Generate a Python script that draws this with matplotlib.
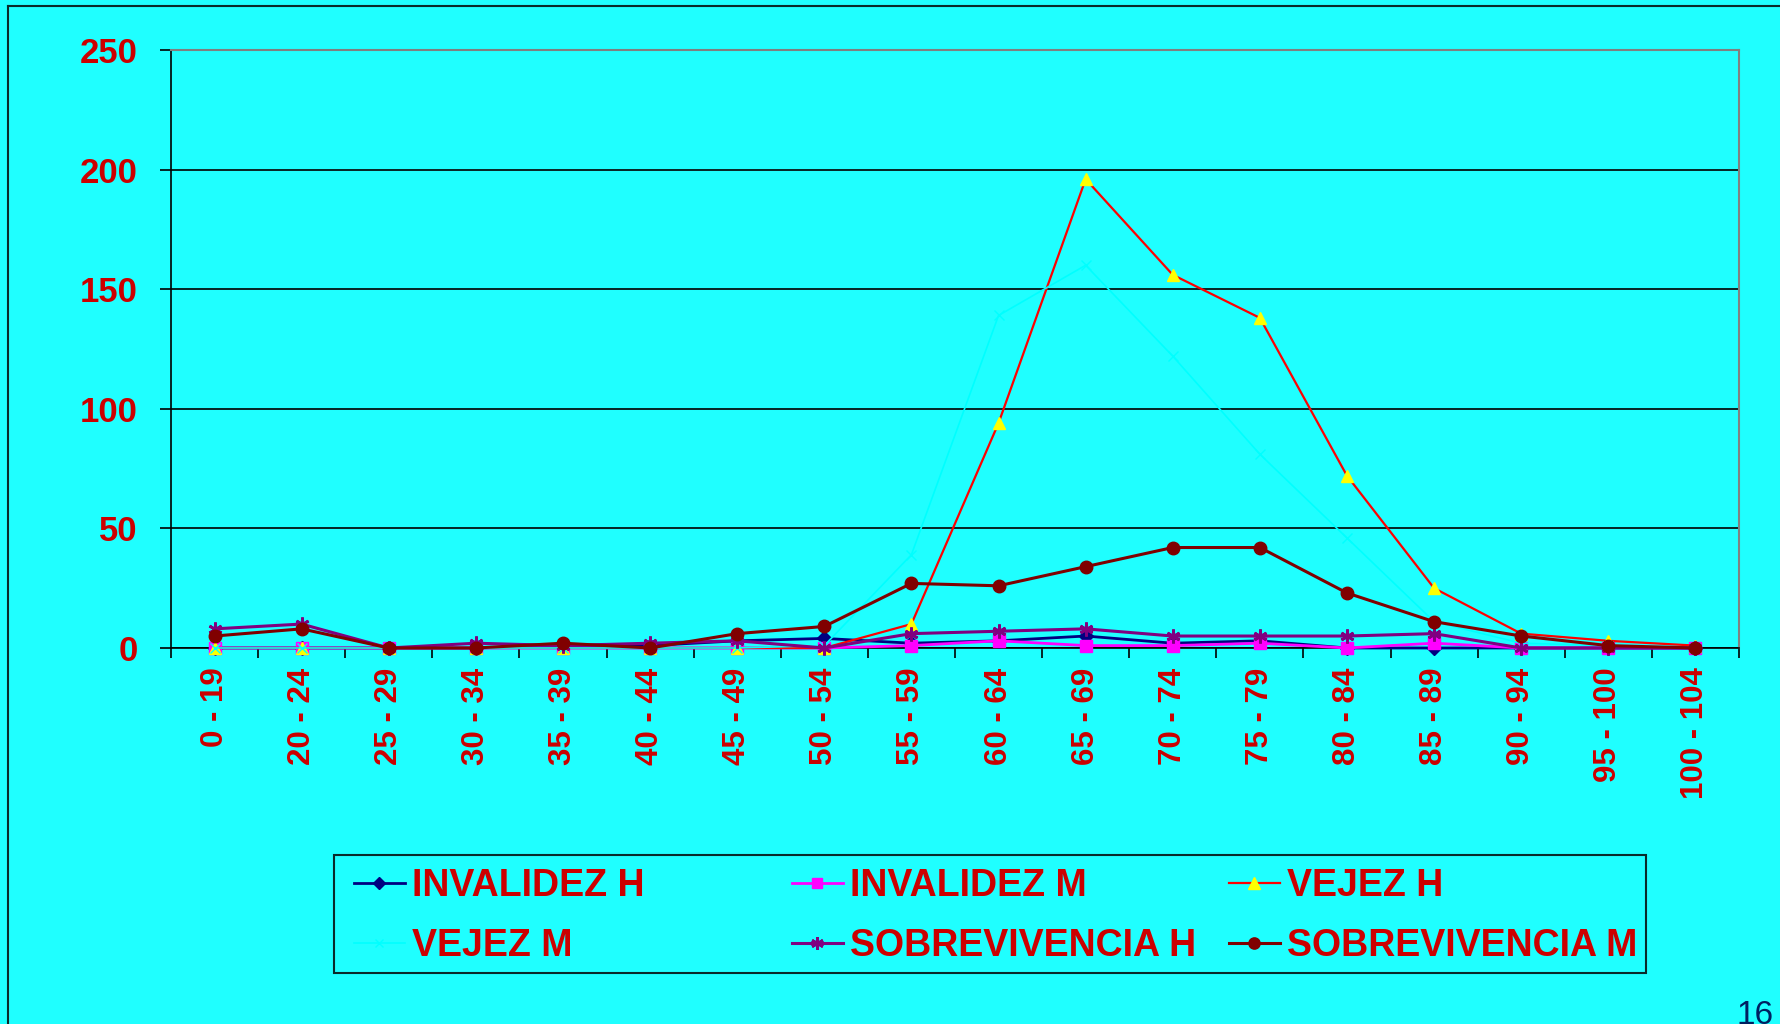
import numpy as np
import matplotlib
matplotlib.use("Agg")
import matplotlib.pyplot as plt
from matplotlib.patches import Rectangle
from matplotlib.lines import Line2D

# age groups on the x axis
ages = ["0 - 19", "20 - 24", "25 - 29", "30 - 34", "35 - 39", "40 - 44",
        "45 - 49", "50 - 54", "55 - 59", "60 - 64", "65 - 69", "70 - 74",
        "75 - 79", "80 - 84", "85 - 89", "90 - 94", "95 - 100", "100 - 104"]

invalidez_h = [0, 0, 0, 0, 1, 1, 3, 4, 2, 3, 5, 2, 3, 0, 0, 0, 0, 0]
invalidez_m = [0, 0, 0, 0, 0, 0, 0, 0, 1, 3, 1, 1, 2, 0, 2, 0, 0, 0]
vejez_h = [0, 0, 0, 0, 0, 0, 0, 0, 10, 94, 196, 156, 138, 72, 25, 6, 3, 1]
vejez_m = [0, 0, 0, 0, 0, 0, 0, 1, 39, 139, 160, 122, 81, 46, 11, 2, 1, 0]
sobrev_h = [8, 10, 0, 2, 1, 2, 3, 0, 6, 7, 8, 5, 5, 5, 6, 0, 0, 0]
sobrev_m = [5, 8, 0, 0, 2, 0, 6, 9, 27, 26, 34, 42, 42, 23, 11, 5, 1, 0]

y_ticks = [0, 50, 100, 150, 200, 250]

BG = "#1FFFFF"
RED_TXT = "#CC0000"
plt.rcParams["font.family"] = ["Liberation Sans", "DejaVu Sans"]

fig = plt.figure(figsize=(17.81, 10.24), dpi=100, facecolor=BG)
ax = fig.add_axes([0.0960, 0.3672, 0.8804, 0.5840], facecolor=BG)

x = np.arange(len(ages))
series = [
    ("INVALIDEZ H", invalidez_h, dict(color="#000080", lw=2.0, marker="D", ms=7,
                                      mfc="#000080", mec="#000080")),
    ("INVALIDEZ M", invalidez_m, dict(color="#FF00FF", lw=2.0, marker="s", ms=8,
                                      mfc="#FF00FF", mec="#FF00FF")),
    ("VEJEZ H", vejez_h, dict(color="#FF0000", lw=1.6, marker="^", ms=9,
                              mfc="#FFFF00", mec="#FFFF00")),
    ("VEJEZ M", vejez_m, dict(color="#00FFFF", lw=1.2, marker="x", ms=7,
                              mfc="#00FFFF", mec="#00FFFF")),
    ("SOBREVIVENCIA H", sobrev_h, dict(color="#800080", lw=2.2, marker=(6, 2, 0), ms=10,
                                       mfc="#800080", mec="#800080", mew=2)),
    ("SOBREVIVENCIA M", sobrev_m, dict(color="#800000", lw=2.2, marker="o", ms=9,
                                       mfc="#800000", mec="#800000")),
]

handles = []
for i, (name, vals, st) in enumerate(series):
    ln, = ax.plot(x, vals, label=name, clip_on=False, zorder=3 + i, **st)
    handles.append(ln)

ax.set_xlim(-0.5, len(ages) - 0.5)
ax.set_ylim(0, 250)

# ticks between categories, labels at category centres
ax.set_xticks(np.arange(-0.5, len(ages), 1))
ax.set_xticklabels([])
ax.set_xticks(x, ages, minor=True)
ax.tick_params(axis="x", which="major", direction="out", length=7.5, width=1.2, color="black")
ax.tick_params(axis="x", which="minor", length=0, pad=14, labelsize=22.5,
               labelcolor=RED_TXT, labelrotation=90)
for lab in ax.get_xticklabels(minor=True):
    lab.set_fontweight("bold")
    lab.set_va("top")

ax.set_yticks(y_ticks)
ax.set_yticklabels([str(v) for v in y_ticks], fontweight="bold")
ax.tick_params(axis="y", direction="out", length=8, width=1.2, pad=16,
               labelsize=25, labelcolor=RED_TXT)

ax.grid(axis="y", color="black", lw=1.2)
ax.set_axisbelow(True)
for s in ["left", "bottom"]:
    ax.spines[s].set_color("black")
    ax.spines[s].set_linewidth(1.2)
for s in ["top", "right"]:
    ax.spines[s].set_color("#808080")
    ax.spines[s].set_linewidth(1.5)

# legend box and the three columns
fig.patches.append(Rectangle((0.1875, 0.0498), 0.7367, 0.1152, transform=fig.transFigure,
                             fill=False, edgecolor="#0A2A2A", lw=1.5))
col_x = [354 / 1781, 792 / 1781, 1229 / 1781]
for c in range(3):
    hs = [handles[c], handles[c + 3]]
    leg = fig.legend(handles=hs, loc="center left", bbox_to_anchor=(col_x[c], 1 - 916 / 1024),
                     frameon=False, borderpad=0, borderaxespad=0, handlelength=1.35,
                     handletextpad=0.2, labelspacing=0.62, markerscale=0.9,
                     prop=dict(family="Liberation Sans", weight="bold", size=27))
    for t in leg.get_texts():
        t.set_color(RED_TXT)

# slide frame and page number
fig.add_artist(Line2D([8 / 1781, 1], [1 - 6 / 1024, 1 - 6 / 1024], transform=fig.transFigure,
                      color="#0A2A2A", lw=1.5))
fig.add_artist(Line2D([8 / 1781, 8 / 1781], [0, 1 - 6 / 1024], transform=fig.transFigure,
                      color="#0A2A2A", lw=1.5))
fig.text(1737 / 1781, 1 - 1000 / 1024, "16", color="#002060", fontsize=24, va="top", ha="left")

fig.savefig("out.png", dpi=100, facecolor=BG)
